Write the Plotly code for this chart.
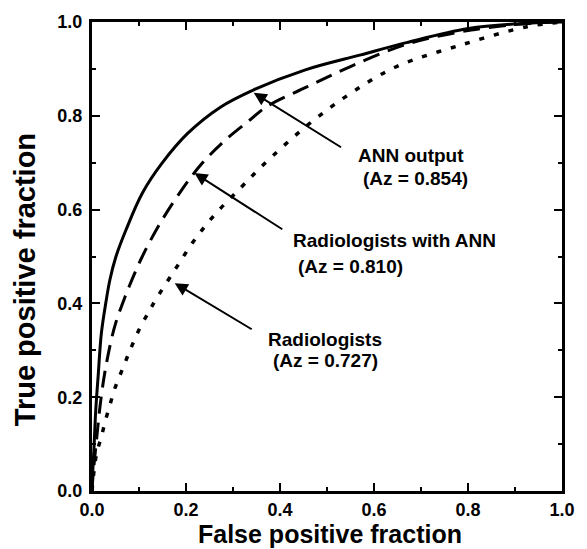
import plotly.graph_objects as go

# ROC curves
ann_fpf = [0.0, 0.001, 0.004, 0.008, 0.013, 0.020, 0.030, 0.038, 0.051, 0.072, 0.107, 0.149, 0.204, 0.274, 0.343, 0.454, 0.572, 0.669, 0.801, 0.919, 1.0]
ann_tpf = [0.0, 0.030, 0.087, 0.173, 0.244, 0.337, 0.405, 0.450, 0.500, 0.556, 0.635, 0.699, 0.763, 0.819, 0.855, 0.898, 0.930, 0.956, 0.986, 0.997, 1.0]

radann_fpf = [0.0, 0.002, 0.006, 0.011, 0.017, 0.027, 0.041, 0.051, 0.065, 0.079, 0.107, 0.145, 0.191, 0.232, 0.280, 0.336, 0.371, 0.456, 0.550, 0.674, 0.807, 0.930, 1.0]
radann_tpf = [0.0, 0.030, 0.073, 0.123, 0.180, 0.251, 0.322, 0.360, 0.400, 0.436, 0.500, 0.571, 0.642, 0.696, 0.745, 0.791, 0.819, 0.861, 0.905, 0.954, 0.983, 0.997, 1.0]

rad_fpf = [0.0, 0.004, 0.010, 0.020, 0.028, 0.038, 0.048, 0.062, 0.074, 0.086, 0.103, 0.121, 0.135, 0.176, 0.218, 0.260, 0.315, 0.364, 0.456, 0.546, 0.646, 0.785, 0.926, 1.0]
rad_tpf = [0.0, 0.040, 0.081, 0.116, 0.148, 0.183, 0.217, 0.253, 0.283, 0.312, 0.350, 0.382, 0.407, 0.471, 0.535, 0.588, 0.645, 0.695, 0.778, 0.845, 0.904, 0.951, 0.990, 1.0]

tick_vals = [0.0, 0.2, 0.4, 0.6, 0.8, 1.0]
tick_text = ["0.0", "0.2", "0.4", "0.6", "0.8", "1.0"]

labels = [
    # (text, x, y)
    ("ANN output", 0.5625, 0.716),
    ("(Az = 0.854)", 0.573, 0.667),
    ("Radiologists with ANN", 0.423, 0.535),
    ("(Az = 0.810)", 0.433, 0.478),
    ("Radiologists", 0.371, 0.324),
    ("(Az = 0.727)", 0.381, 0.279),
]
arrows = [
    # (tip_x, tip_y, tail_x, tail_y)
    (0.344, 0.849, 0.533, 0.731),
    (0.218, 0.678, 0.408, 0.556),
    (0.176, 0.443, 0.343, 0.343),
]

FONT = "Liberation Sans, Arial, Helvetica, sans-serif"

fig = go.Figure()
fig.add_trace(go.Scatter(x=ann_fpf, y=ann_tpf, mode="lines",
                         line=dict(color="black", width=3, shape="spline", smoothing=1.0),
                         showlegend=False, hoverinfo="skip"))
fig.add_trace(go.Scatter(x=radann_fpf, y=radann_tpf, mode="lines",
                         line=dict(color="black", width=3, dash="17px,9px", shape="spline", smoothing=1.0),
                         showlegend=False, hoverinfo="skip"))
fig.add_trace(go.Scatter(x=rad_fpf, y=rad_tpf, mode="lines",
                         line=dict(color="black", width=3.5, dash="5px,10px", shape="spline", smoothing=1.0),
                         showlegend=False, hoverinfo="skip"))

annotations = []
for text, x, y in labels:
    annotations.append(dict(text=text, x=x, y=y, xref="x", yref="y",
                            xanchor="left", yanchor="middle", showarrow=False,
                            font=dict(family=FONT, size=19, color="black", weight="bold")))
for tx, ty, sx, sy in arrows:
    annotations.append(dict(text="", x=tx, y=ty, xref="x", yref="y",
                            ax=sx, ay=sy, axref="x", ayref="y",
                            showarrow=True, arrowhead=2, arrowsize=1.3, arrowwidth=2,
                            arrowcolor="black", standoff=0, startstandoff=0))
# axis titles
annotations.append(dict(text="False positive fraction", x=0.506, y=-0.1237, xref="paper", yref="paper",
                        xanchor="center", yanchor="bottom", showarrow=False, borderpad=0,
                        font=dict(family=FONT, size=25, color="black", weight="bold")))
annotations.append(dict(text="True positive fraction", x=-0.142, y=0.45, xref="paper", yref="paper",
                        xanchor="center", yanchor="middle", showarrow=False, textangle=-90,
                        font=dict(family=FONT, size=29, color="black", weight="bold")))

axis_common = dict(
    range=[0, 1], showgrid=False, zeroline=False,
    showline=True, linecolor="black", linewidth=3, mirror="allticks",
    ticks="inside", ticklen=8, tickwidth=2, tickcolor="black",
    tickvals=tick_vals, ticktext=tick_text,
    tickfont=dict(family=FONT, size=18, color="black", weight="bold"),
    minor=dict(ticks="inside", ticklen=4, tickwidth=2, tickcolor="black", dtick=0.1, showgrid=False),
    fixedrange=True,
)

fig.update_layout(
    width=587, height=549,
    margin=dict(l=92, r=15, t=22, b=58),
    paper_bgcolor="white", plot_bgcolor="white",
    xaxis=dict(**axis_common, ticklabelstandoff=0),
    yaxis=dict(**axis_common, ticklabelstandoff=3),
    annotations=annotations,
    showlegend=False,
)

fig.write_html("out.html")
